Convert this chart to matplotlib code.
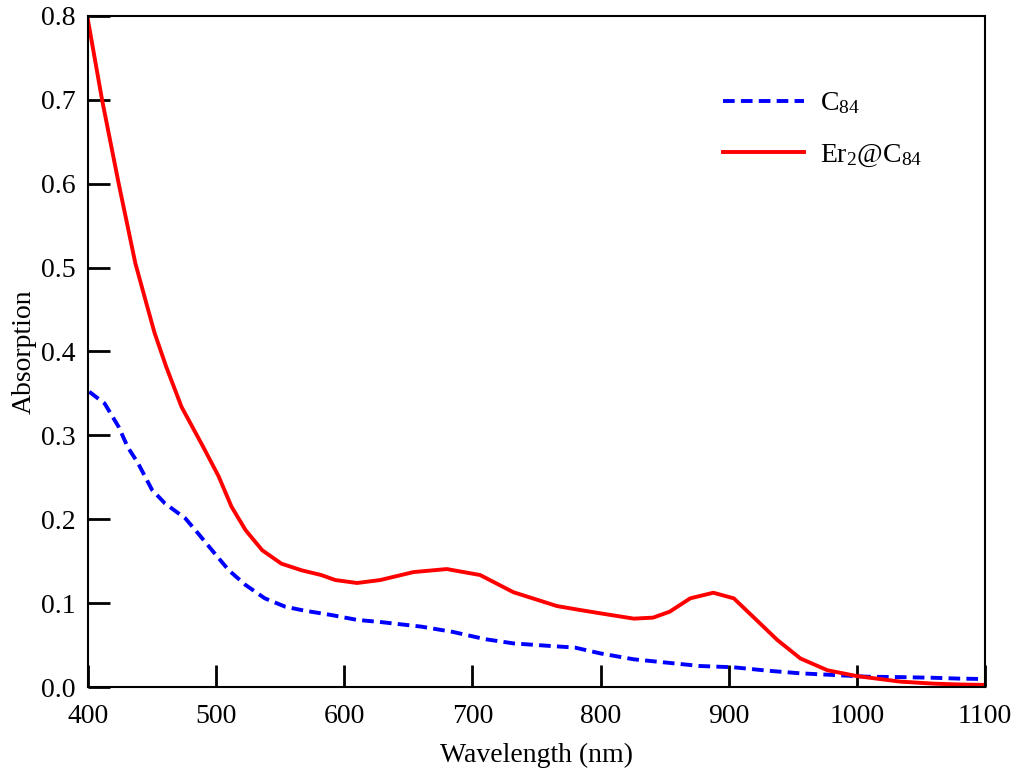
import matplotlib
matplotlib.use("Agg")
import matplotlib.pyplot as plt
import numpy as np

plt.rcParams['font.family'] = ['Liberation Serif', 'DejaVu Serif']
plt.rcParams['mathtext.default'] = 'regular'

# red curve: Er2@C84
wl_er = [400, 411, 424, 437, 446, 452, 461, 473, 490, 502, 512, 523, 536, 551,
         567, 582, 593, 610, 628, 654, 680, 706, 732, 766, 784, 800, 826, 841,
         854, 870, 888, 904, 919, 938, 956, 977, 1000, 1034, 1060, 1080, 1100]
abs_er = [0.795, 0.70, 0.60, 0.505, 0.455, 0.422, 0.382, 0.334, 0.286, 0.251,
          0.215, 0.187, 0.163, 0.147, 0.139, 0.1335, 0.1275, 0.124, 0.1275,
          0.137, 0.1406, 0.1335, 0.113, 0.0965, 0.0918, 0.0878, 0.0815, 0.0827,
          0.0898, 0.1057, 0.1124, 0.1057, 0.0838, 0.056, 0.034, 0.020, 0.013,
          0.0064, 0.004, 0.003, 0.0025]

# blue dashed curve: C84
wl_c = [401, 413, 424, 431, 439, 450, 460, 476, 486, 499, 510, 523, 538, 554,
        569, 590, 610, 628, 660, 685, 710, 732, 760, 780, 800, 826, 852, 878,
        904, 930, 956, 982, 1008, 1034, 1060, 1080, 1100]
abs_c = [0.352, 0.338, 0.310, 0.286, 0.267, 0.235, 0.219, 0.201, 0.183, 0.159,
         0.139, 0.1216, 0.1057, 0.0957, 0.091, 0.0858, 0.080, 0.0775, 0.072,
         0.0656, 0.057, 0.052, 0.049, 0.047, 0.040, 0.033, 0.029, 0.025,
         0.0235, 0.0195, 0.0163, 0.0143, 0.0123, 0.0118, 0.011, 0.010, 0.0095]

fig = plt.figure(figsize=(10.17, 7.74), dpi=100)
ax = fig.add_axes([0.0865, 0.1124, 0.882, 0.867])

ax.plot(wl_c, abs_c, color='blue', lw=2.8, ls=(0, (3.0, 1.6)), label='C$_{84}$')
ax.plot(wl_er, abs_er, color='red', lw=2.8, label='Er$_2$@C$_{84}$')

ax.set_xlim(400, 1100)
ax.set_ylim(0, 0.8)
ax.set_xticks(np.arange(400, 1101, 100))
ax.set_yticks(np.arange(0, 0.81, 0.1))
ax.set_yticklabels([f"{v:.1f}" for v in np.arange(0, 0.81, 0.1)])
ax.tick_params(direction='in', length=16, width=2, labelsize=20)
ax.tick_params(axis='x', pad=12)
ax.tick_params(axis='y', pad=9)
for s in ax.spines.values():
    s.set_linewidth(1.5)

ax.set_xlabel("Wavelength (nm)", fontsize=20, labelpad=10)
ax.set_ylabel("Absorption", fontsize=20, labelpad=3)

ax.legend(loc='upper left', bbox_to_anchor=(0.708, 0.889), frameon=False,
          fontsize=20, handlelength=2.9, handletextpad=0.6, labelspacing=0.95,
          borderpad=0, borderaxespad=0)

fig.savefig("out.png", dpi=100)
